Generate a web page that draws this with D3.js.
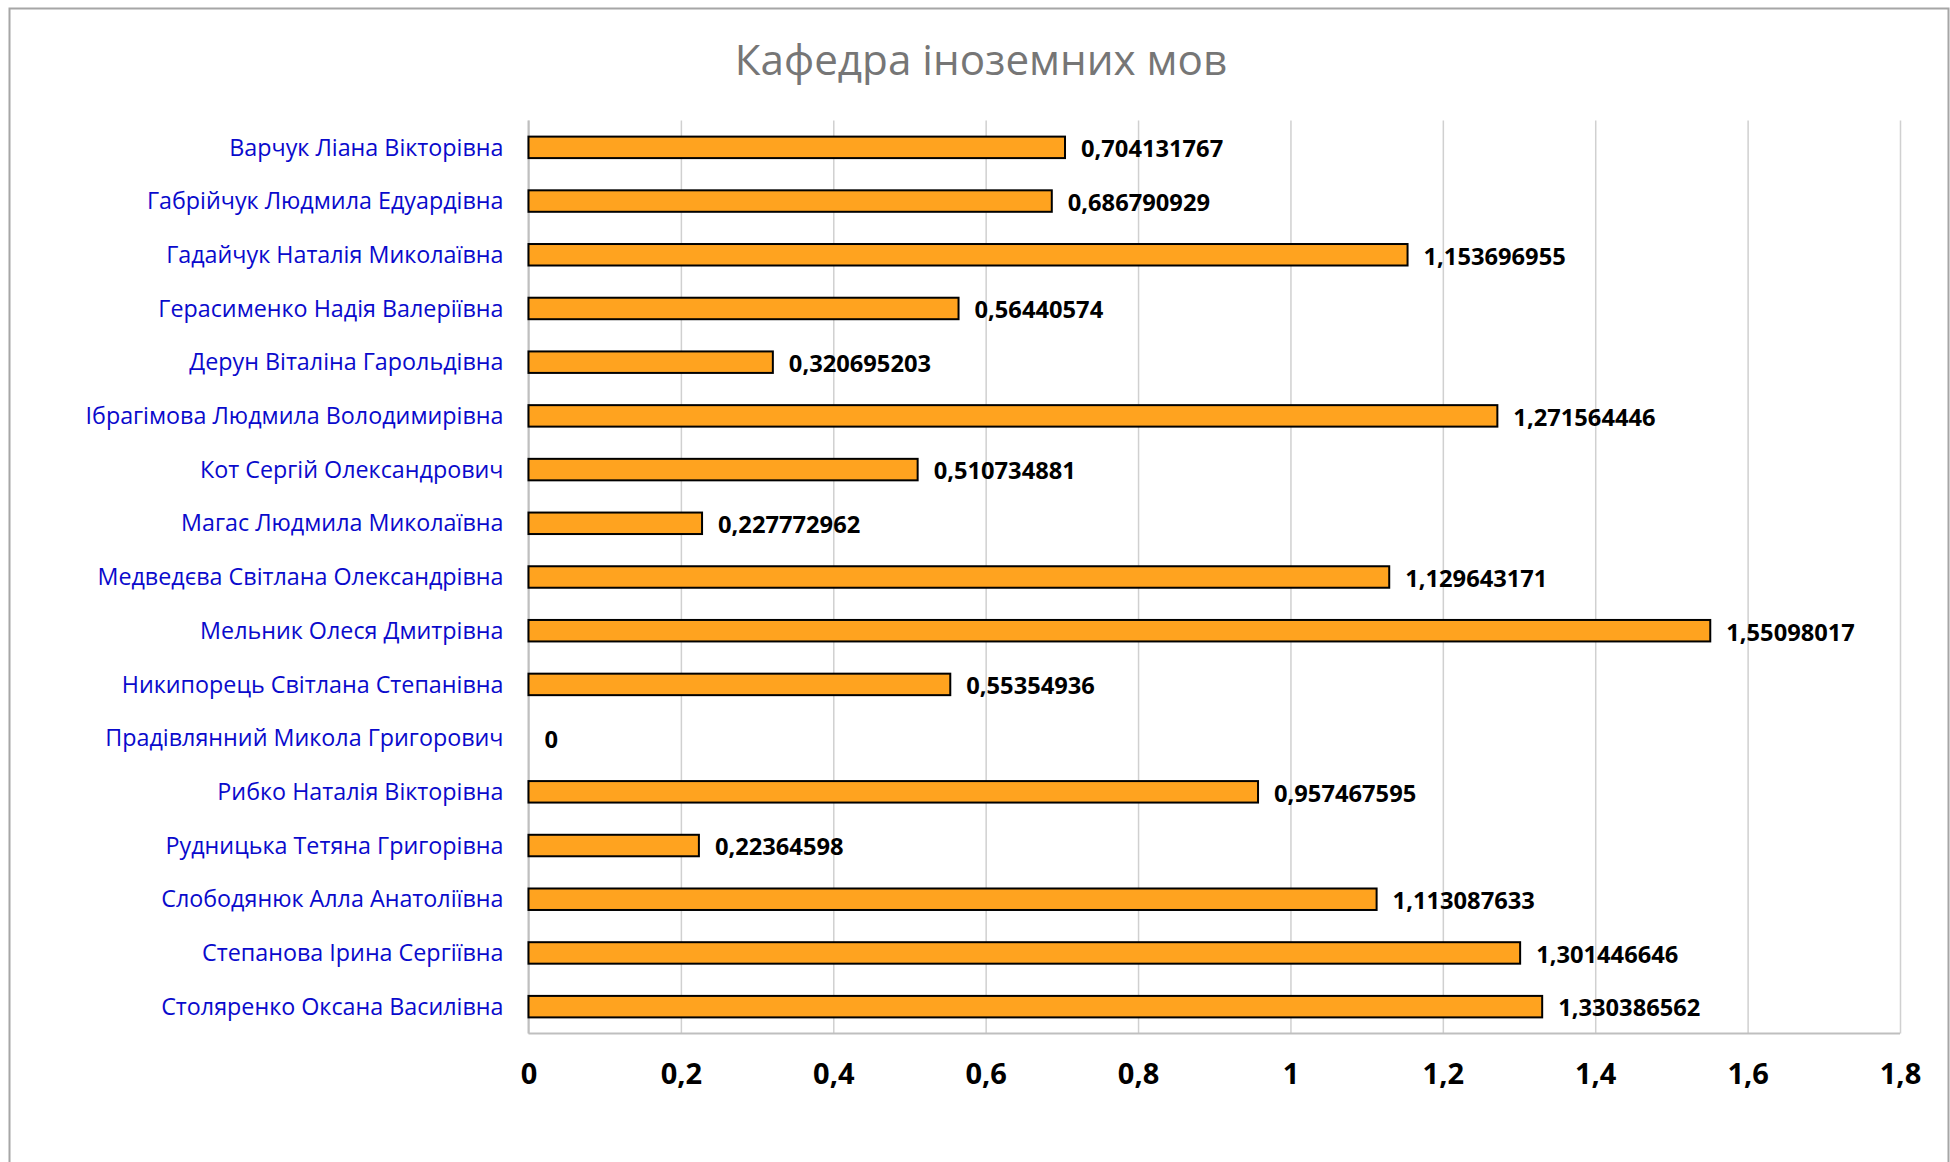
<!DOCTYPE html>
<html>
<head>
<meta charset="utf-8">
<script src="https://cdn.jsdelivr.net/npm/d3@7"></script>
<style>
  html, body { margin: 0; padding: 0; background: #fff; }
  svg { display: block; }
</style>
</head>
<body>
<svg id="chart" width="1950" height="1162"></svg>
<script>
const title = "Кафедра іноземних мов";
const categories = [
  "Варчук Ліана Вікторівна",
  "Габрійчук Людмила Едуардівна",
  "Гадайчук Наталія Миколаївна",
  "Герасименко Надія Валеріївна",
  "Дерун Віталіна Гарольдівна",
  "Ібрагімова Людмила Володимирівна",
  "Кот Сергій Олександрович",
  "Магас Людмила Миколаївна",
  "Медведєва Світлана Олександрівна",
  "Мельник Олеся Дмитрівна",
  "Никипорець Світлана Степанівна",
  "Прадівлянний Микола Григорович",
  "Рибко Наталія Вікторівна",
  "Рудницька Тетяна Григорівна",
  "Слободянюк Алла Анатоліївна",
  "Степанова Ірина Сергіївна",
  "Столяренко Оксана Василівна"
];
const values = [
  0.704131767, 0.686790929, 1.153696955, 0.56440574, 0.320695203,
  1.271564446, 0.510734881, 0.227772962, 1.129643171, 1.55098017,
  0.55354936, 0, 0.957467595, 0.22364598, 1.113087633, 1.301446646,
  1.330386562
];
const valueLabels = [
  "0,704131767", "0,686790929", "1,153696955", "0,56440574", "0,320695203",
  "1,271564446", "0,510734881", "0,227772962", "1,129643171", "1,55098017",
  "0,55354936", "0", "0,957467595", "0,22364598", "1,113087633", "1,301446646",
  "1,330386562"
];
const xTicks = [0, 0.2, 0.4, 0.6, 0.8, 1, 1.2, 1.4, 1.6, 1.8];
const xTickLabels = ["0", "0,2", "0,4", "0,6", "0,8", "1", "1,2", "1,4", "1,6", "1,8"];

const svg = d3.select("#chart");
const FONT = "'Open Sans', 'Noto Sans', sans-serif";

// chart frame
svg.append("path")
  .attr("d", "M9.5,1162 L9.5,8.5 L1948.5,8.5 L1948.5,1162")
  .attr("fill", "none").attr("stroke", "#a6a6a6").attr("stroke-width", 2);

const plot = { left: 528.5, right: 1900, top: 120.5, bottom: 1033.5 };

const x = d3.scaleLinear().domain([0, 1.8]).range([plot.left, plot.right]);
const y = d3.scaleBand().domain(categories).range([plot.top, plot.bottom])
  .paddingInner(0.6).paddingOuter(0.3);

// title
svg.append("text")
  .attr("x", 981).attr("y", 75)
  .attr("text-anchor", "middle")
  .attr("font-family", FONT).attr("font-size", 42.2)
  .attr("fill", "#767676")
  .text(title);

// gridlines
const gx = svg.append("g")
  .attr("transform", `translate(0,${plot.bottom})`)
  .call(d3.axisBottom(x).tickValues(xTicks).tickSize(-(plot.bottom - plot.top))
    .tickFormat((d, i) => xTickLabels[i]).tickPadding(30));
gx.select(".domain").remove();
gx.selectAll(".tick line").attr("stroke", "#d0d0d0").attr("stroke-width", 1.5);
gx.selectAll(".tick text")
  .attr("font-family", FONT).attr("font-size", 29).attr("font-weight", "bold")
  .attr("fill", "#000").attr("dy", "0.71em");

// axis lines
svg.append("line")
  .attr("x1", plot.left).attr("x2", plot.right)
  .attr("y1", plot.bottom).attr("y2", plot.bottom)
  .attr("stroke", "#bfbfbf").attr("stroke-width", 2);
svg.append("line")
  .attr("x1", plot.left).attr("x2", plot.left)
  .attr("y1", plot.top).attr("y2", plot.bottom)
  .attr("stroke", "#bfbfbf").attr("stroke-width", 2);

// category labels
svg.append("g").selectAll("text").data(categories).join("text")
  .attr("x", plot.left - 25)
  .attr("y", d => y(d) + y.bandwidth() / 2)
  .attr("dy", "0.35em")
  .attr("text-anchor", "end")
  .attr("font-family", FONT).attr("font-size", 23.3)
  .attr("fill", "#0a0acc")
  .text(d => d);

// bars
svg.append("g").selectAll("rect").data(values).join("rect")
  .attr("x", x(0))
  .attr("y", (d, i) => y(categories[i]))
  .attr("width", d => Math.max(0, x(d) - x(0)))
  .attr("height", y.bandwidth())
  .attr("fill", "#ffa31f")
  .attr("stroke", "#000").attr("stroke-width", 2)
  .attr("display", d => d === 0 ? "none" : null);

// value labels
svg.append("g").selectAll("text").data(values).join("text")
  .attr("x", d => x(d) + 16)
  .attr("y", (d, i) => y(categories[i]) + y.bandwidth() / 2 + 1.5)
  .attr("dy", "0.35em")
  .attr("font-family", FONT).attr("font-size", 23.7).attr("font-weight", "bold")
  .attr("fill", "#000")
  .text((d, i) => valueLabels[i]);
</script>
</body>
</html>
